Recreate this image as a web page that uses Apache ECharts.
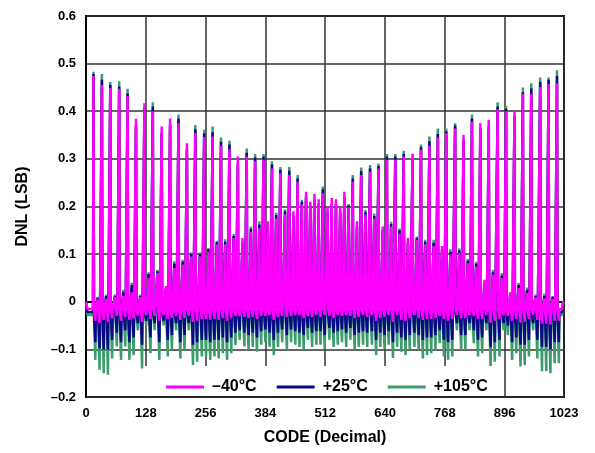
<!DOCTYPE html>
<html>
<head>
<meta charset="utf-8">
<script src="https://cdn.jsdelivr.net/npm/echarts@6/dist/echarts.min.js"></script>
<style>
  html, body { margin: 0; padding: 0; background: #fff; }
  #main { width: 595px; height: 453px; }
</style>
</head>
<body>
<div id="main"></div>
<script>
// codes where the DNL spikes sit (about every 9 codes)
const spikeCodes = [
  16, 25, 34, 43, 52, 62, 71, 80, 89, 98,
  107, 116, 125, 134, 143, 153, 162, 171, 180, 189,
  198, 207, 216, 225, 234, 244, 253, 262, 271, 280,
  289, 298, 307, 316, 325, 335, 344, 353, 362, 371,
  380, 389, 398, 407, 416, 426, 435, 444, 453, 462,
  471, 480, 489, 498, 507, 517, 526, 535, 544, 553,
  562, 571, 580, 589, 598, 608, 617, 626, 635, 644,
  653, 662, 671, 680, 689, 699, 708, 717, 726, 735,
  744, 753, 762, 771, 780, 790, 799, 808, 817, 826,
  835, 844, 853, 862, 871, 881, 890, 899, 908, 917,
  926, 935, 944, 953, 962, 972, 981, 990, 999, 1008
];
// a dip follows each spike this many codes later
const dipOffset = 4;
// codes pinned at 0 LSB at both ends
const edgeCodes = [0, 1, 2, 1021, 1022, 1023];

// -40°C
const peaksM40 = [
  .474, .005, .455, .006, .449, .010, .447, .012, .432, .020,
  .384, .010, .417, .050, .400, .060, .368, .033, .385, .071,
  .375, .078, .333, .095, .354, .095, .346, .105, .347, .120,
  .327, .120, .320, .134, .305, .134, .305, .147, .295, .155,
  .298, .169, .280, .175, .270, .183, .266, .190, .252, .204,
  .231, .210, .226, .215, .228, .200, .218, .215, .200, .231,
  .198, .252, .169, .266, .183, .273, .175, .280, .158, .298,
  .158, .298, .143, .305, .134, .311, .130, .319, .120, .327,
  .117, .345, .117, .354, .099, .364, .102, .350, .081, .378,
  .074, .375, .046, .382, .057, .404, .050, .400, .020, .399,
  .029, .436, .018, .436, .010, .451, .007, .457, .006, .459
];
const dipsM40 = [
  -.040, -.045, -.038, -.042, -.035, -.030, -.040, -.032, -.038, -.035,
  -.030, -.042, -.028, -.036, -.030, -.040, -.028, -.036, -.034, -.030,
  -.038, -.034, -.030, -.042, -.040, -.036, -.036, -.038, -.036, -.038,
  -.034, -.040, -.034, -.030, -.030, -.032, -.034, -.032, -.036, -.030,
  -.030, -.028, -.038, -.032, -.030, -.032, -.030, -.028, -.028, -.034,
  -.030, -.032, -.028, -.032, -.028, -.030, -.034, -.028, -.030, -.028,
  -.030, -.034, -.032, -.028, -.032, -.028, -.040, -.034, -.032, -.028,
  -.042, -.028, -.038, -.040, -.034, -.028, -.034, -.038, -.036, -.036,
  -.034, -.030, -.036, -.040, -.036, -.028, -.034, -.034, -.028, -.030,
  -.036, -.036, -.028, -.044, -.040, -.036, -.028, -.030, -.040, -.036,
  -.044, -.042, -.036, -.028, -.038, -.046, -.046, -.048, -.040, -.040
];
const baseM40 = -0.015;

// +25°C
const peaks25 = [
  .478, .008, .466, .012, .455, .012, .452, .020, .437, .035,
  .370, .012, .405, .058, .410, .064, .355, .028, .372, .080,
  .385, .084, .320, .100, .362, .100, .354, .110, .356, .125,
  .336, .126, .330, .138, .290, .125, .313, .153, .303, .162,
  .305, .160, .288, .182, .277, .190, .275, .180, .259, .210,
  .220, .200, .215, .205, .236, .190, .205, .205, .190, .220,
  .202, .259, .160, .274, .188, .280, .180, .285, .150, .305,
  .163, .305, .150, .310, .125, .300, .134, .325, .126, .337,
  .124, .352, .110, .358, .105, .370, .108, .340, .086, .385,
  .080, .365, .040, .370, .062, .410, .055, .405, .015, .390,
  .035, .440, .025, .448, .012, .462, .012, .466, .010, .474
];
const dips25 = [
  -.085, -.098, -.100, -.100, -.080, -.065, -.085, -.060, -.085, -.075,
  -.045, -.090, -.040, -.075, -.045, -.085, -.040, -.080, -.070, -.045,
  -.085, -.070, -.045, -.090, -.085, -.080, -.080, -.085, -.080, -.080,
  -.075, -.085, -.075, -.065, -.060, -.065, -.070, -.065, -.075, -.062,
  -.058, -.065, -.080, -.065, -.058, -.070, -.058, -.062, -.065, -.070,
  -.055, -.065, -.062, -.062, -.070, -.055, -.065, -.062, -.058, -.065,
  -.055, -.070, -.065, -.062, -.065, -.062, -.080, -.065, -.070, -.062,
  -.085, -.065, -.075, -.080, -.070, -.065, -.070, -.080, -.075, -.075,
  -.070, -.060, -.080, -.085, -.080, -.045, -.070, -.070, -.045, -.060,
  -.080, -.075, -.045, -.095, -.085, -.080, -.045, -.050, -.085, -.075,
  -.090, -.090, -.080, -.045, -.080, -.095, -.095, -.100, -.085, -.085
];
const base25 = -0.022;

// +105°C
const peaks105 = [
  .483, .010, .478, .015, .462, .015, .463, .025, .447, .040,
  .365, .015, .400, .062, .419, .067, .350, .025, .368, .085,
  .393, .088, .315, .104, .371, .104, .361, .113, .368, .128,
  .345, .131, .338, .142, .285, .120, .322, .158, .310, .169,
  .310, .155, .295, .187, .283, .194, .283, .175, .266, .214,
  .215, .195, .210, .200, .242, .185, .200, .200, .185, .215,
  .205, .266, .155, .282, .193, .287, .185, .290, .145, .310,
  .168, .310, .154, .317, .120, .295, .137, .330, .130, .347,
  .130, .364, .105, .364, .110, .375, .112, .335, .090, .393,
  .084, .360, .035, .365, .067, .419, .060, .411, .010, .385,
  .040, .450, .030, .459, .015, .471, .017, .471, .012, .486
];
const dips105 = [
  -.122, -.143, -.150, -.153, -.119, -.094, -.122, -.094, -.122, -.112,
  -.060, -.140, -.050, -.108, -.060, -.122, -.050, -.115, -.101, -.060,
  -.119, -.101, -.060, -.133, -.126, -.115, -.115, -.122, -.115, -.119,
  -.108, -.122, -.108, -.091, -.080, -.094, -.101, -.095, -.105, -.090,
  -.085, -.095, -.112, -.095, -.085, -.100, -.085, -.090, -.095, -.100,
  -.080, -.095, -.090, -.090, -.100, -.080, -.095, -.090, -.085, -.095,
  -.080, -.100, -.095, -.090, -.095, -.090, -.112, -.095, -.100, -.090,
  -.118, -.095, -.105, -.112, -.101, -.095, -.101, -.119, -.112, -.108,
  -.101, -.087, -.115, -.122, -.115, -.060, -.101, -.101, -.060, -.087,
  -.115, -.108, -.060, -.140, -.126, -.115, -.060, -.070, -.122, -.108,
  -.136, -.133, -.115, -.060, -.119, -.146, -.146, -.150, -.129, -.129
];
const base105 = -0.028;

const yTicks = [-0.2, -0.1, 0, 0.1, 0.2, 0.3, 0.4, 0.5, 0.6];

function buildData(peaks, dips, base) {
  const vals = new Array(1024).fill(base);
  edgeCodes.forEach(c => { vals[c] = 0; });
  spikeCodes.forEach((c, k) => {
    vals[c] = peaks[k];
    vals[c + dipOffset] = dips[k];
  });
  return vals.map((v, i) => [i, v]);
}

const font = '"Liberation Sans", Arial, Helvetica, sans-serif';

function lineSeries(name, color, data, z) {
  return {
    name: name,
    type: 'line',
    data: data,
    showSymbol: false,
    symbol: 'none',
    z: z,
    lineStyle: { color: color, width: 2.5, join: 'bevel' },
    itemStyle: { color: color }
  };
}

const chart = echarts.init(document.getElementById('main'), null, { renderer: 'canvas' });

chart.setOption({
  animation: false,
  backgroundColor: '#fff',
  grid: {
    left: 86, right: 31, top: 16, bottom: 56,
    show: true, borderColor: '#000', borderWidth: 2
  },
  xAxis: {
    type: 'value',
    min: 0, max: 1023, interval: 128,
    name: 'CODE (Decimal)',
    nameLocation: 'middle',
    nameGap: 33,
    nameTextStyle: { fontFamily: font, fontWeight: 'bold', fontSize: 16, color: '#000' },
    axisLine: { show: true, lineStyle: { color: '#000', width: 2 } },
    axisTick: { show: false },
    axisLabel: {
      fontFamily: font, fontWeight: 'bold', fontSize: 13, color: '#000', margin: 10,
      formatter: v => String(Math.round(v))
    },
    splitLine: { show: true, lineStyle: { color: '#333', width: 1.5 } }
  },
  yAxis: {
    type: 'value',
    min: yTicks[0], max: yTicks[yTicks.length - 1], interval: 0.1,
    name: 'DNL (LSB)',
    nameLocation: 'middle',
    nameGap: 55,
    nameTextStyle: { fontFamily: font, fontWeight: 'bold', fontSize: 16, color: '#000' },
    axisLine: { show: true, lineStyle: { color: '#000', width: 2 } },
    axisTick: { show: false },
    axisLabel: {
      fontFamily: font, fontWeight: 'bold', fontSize: 13, color: '#000', margin: 10,
      formatter: v => {
        if (Math.abs(v) < 1e-9) return '0';
        return v < 0 ? '\u2013' + Math.abs(v).toFixed(1) : v.toFixed(1);
      }
    },
    splitLine: { show: true, lineStyle: { color: '#333', width: 1.5 } }
  },
  graphic: [{
    type: 'rect',
    z: 50,
    shape: { x: 145, y: 366, width: 359, height: 30 },
    style: { fill: '#fff' }
  }],
  legend: {
    z: 60,
    left: 161, top: 374,
    itemWidth: 38, itemHeight: 3, itemGap: 20,
    icon: 'rect',
    data: ['\u201340\u00b0C', '+25\u00b0C', '+105\u00b0C'],
    textStyle: { fontFamily: font, fontWeight: 'bold', fontSize: 16, color: '#000', padding: [0, 0, 0, 3] }
  },
  series: [
    lineSeries('+105\u00b0C', '#3c9c6c', buildData(peaks105, dips105, base105), 2),
    lineSeries('+25\u00b0C', '#0a0a86', buildData(peaks25, dips25, base25), 3),
    lineSeries('\u201340\u00b0C', '#ff00ff', buildData(peaksM40, dipsM40, baseM40), 4)
  ]
});
</script>
</body>
</html>
